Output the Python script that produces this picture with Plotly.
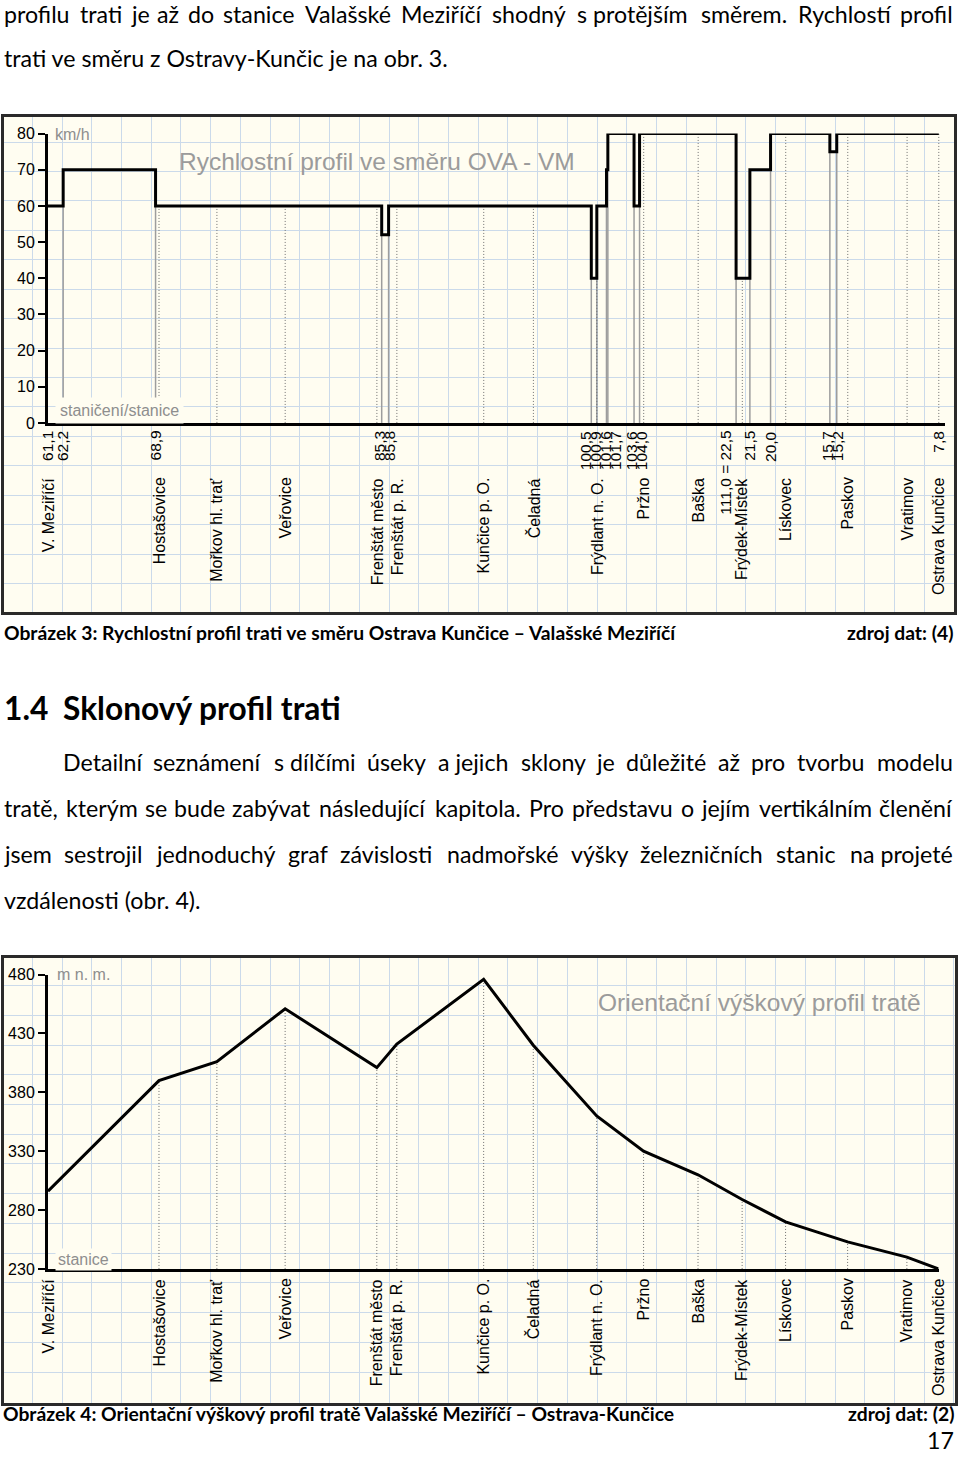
import unicodedata
import plotly.graph_objects as go

W, H = 960, 1463

# ------------------------------------------------------------------ data
# Obr. 3 - speed profile (chainage of speed changes, speed from that point on)
CHAIN_A_START = 61.1      # V. Meziříčí side chainage
CHAIN_A_END = 111.0       # 111,0 = 22,5
CHAIN_B_START = 22.5      # Ostrava side chainage (decreasing)

speed_chainage = [61.1, 62.2, 68.9, 85.3, 85.8, 100.5, 100.9, 101.6, 101.7, 103.6, 104.0,
                  22.5, 21.5, 20.0, 15.7, 15.2, 7.8]
speed_section = ["A", "A", "A", "A", "A", "A", "A", "A", "A", "A", "A",
                 "B", "B", "B", "B", "B", "B"]
speed_kmh = [60, 70, 60, 52, 60, 40, 60, 70, 80, 60, 80, 40, 70, 80, 75, 80, 80]
chainage_labels = ["61,1", "62,2", "68,9", "85,3", "85,8", "100,5", "100,9", "101,6", "101,7",
                   "103,6", "104,0", "111,0 = 22,5", "21,5", "20,0", "15,7", "15,2", "7,8"]

# stations: distance from V. Meziříčí [km] and elevation [m n. m.] (Obr. 4)
station_names = ["V. Meziříčí", "Hostašovice", "Mořkov hl. trať", "Veřovice", "Frenštát město",
                 "Frenštát p. R.", "Kunčice p. O.", "Čeladná", "Frýdlant n. O.", "Pržno", "Baška",
                 "Frýdek-Místek", "Lískovec", "Paskov", "Vratimov", "Ostrava Kunčice"]
station_km = [0.0, 8.05, 12.25, 17.2, 23.85, 25.3, 31.6, 35.2, 39.8, 43.2, 47.15,
              50.35, 53.5, 58.0, 62.3, 64.6]
station_elev = [296, 390, 406, 451, 401, 421, 476, 420, 360, 330, 310, 289, 270, 253, 240, 230]

speed_ticks = [0, 10, 20, 30, 40, 50, 60, 70, 80]
elev_ticks = [230, 280, 330, 380, 430, 480]

# page text
text_top = ["profilu trati je až do stanice Valašské Meziříčí shodný s\u00a0protějším směrem. Rychlostí profil",
            "trati ve směru z Ostravy-Kunčic je na obr. 3."]
caption3 = "Obrázek 3: Rychlostní profil trati ve směru Ostrava Kunčice – Valašské Meziříčí"
source3 = "zdroj dat: (4)"
heading_num = "1.4"
heading_text = "Sklonový profil trati"
para = ["Detailní seznámení s\u00a0dílčími úseky a\u00a0jejich sklony je důležité až pro tvorbu modelu",
        "tratě, kterým se bude zabývat následující kapitola. Pro představu o jejím vertikálním členění",
        "jsem sestrojil jednoduchý graf závislosti nadmořské výšky železničních stanic na\u00a0projeté",
        "vzdálenosti (obr. 4)."]
caption4 = "Obrázek 4: Orientační výškový profil tratě Valašské Meziříčí – Ostrava-Kunčice"
source4 = "zdroj dat: (2)"
page_no = "17"

# ------------------------------------------------------------------ styles
CF = "Liberation Sans, Arial, sans-serif"
TF = "Lato, Open Sans, sans-serif"
CREAM = "#fffdf1"
GRID = "#cbdaea"
FRAME = "#2a2a2a"
GREY_TXT = "#8e8e8e"
TITLE_TXT = "#9b9b9b"

# vertical calibration of the photographed page
Y_OFF, Y_SCALE = 6.1, 0.9907


def PX(px):
    return px / W


def PY(py):
    return 1 - ((py - Y_OFF) / Y_SCALE) / H


def PYRAW(py):
    return 1 - py / H


def dist(ch, sec):
    if sec == "A":
        return ch - CHAIN_A_START
    return (CHAIN_A_END - CHAIN_A_START) + (CHAIN_B_START - ch)


speed_dist = [dist(c, s) for c, s in zip(speed_chainage, speed_section)]


def speed_at(d):
    v = speed_kmh[0]
    for x, s in zip(speed_dist, speed_kmh):
        if x <= d + 1e-9:
            v = s
    return v


def spread(positions, gap):
    clusters = []
    for p in positions:
        clusters.append([p, 1])
        while len(clusters) > 1:
            a, b = clusters[-2], clusters[-1]
            ca, cb = a[0] / a[1], b[0] / b[1]
            if (cb - (b[1] - 1) * gap / 2) - (ca + (a[1] - 1) * gap / 2) < gap:
                clusters[-2:] = [[a[0] + b[0], a[1] + b[1]]]
            else:
                break
    out = []
    for s, n in clusters:
        c = s / n
        for k in range(n):
            out.append(c + (k - (n - 1) / 2) * gap)
    return out


# ------------------------------------------------------------------ traces
fig = go.Figure()

# grey solid lines at speed changes
gx, gy = [], []
for i in range(1, len(speed_dist) - 1):
    gx += [speed_dist[i], speed_dist[i], None]
    gy += [0, min(speed_kmh[i - 1], speed_kmh[i]), None]
fig.add_trace(go.Scatter(x=gx, y=gy, mode="lines", xaxis="x2", yaxis="y2",
                         line=dict(color="#9d9d9d", width=1.5), hoverinfo="skip"))

# dotted station lines (speed chart)
dx, dy = [], []
for d in station_km[1:]:
    dx += [d, d, None]
    dy += [0, speed_at(d), None]
fig.add_trace(go.Scatter(x=dx, y=dy, mode="lines", xaxis="x2", yaxis="y2",
                         line=dict(color="#707070", width=1, dash="1px,2px"), hoverinfo="skip"))

# speed profile
fig.add_trace(go.Scatter(x=speed_dist, y=speed_kmh, mode="lines", xaxis="x2", yaxis="y2",
                         line=dict(color="black", width=3, shape="hv")))

# dotted station lines (elevation chart)
ex, ey = [], []
for d, e in zip(station_km[1:], station_elev[1:]):
    ex += [d, d, None]
    ey += [elev_ticks[0], e, None]
fig.add_trace(go.Scatter(x=ex, y=ey, mode="lines", xaxis="x4", yaxis="y4",
                         line=dict(color="#707070", width=1, dash="1px,2px"), hoverinfo="skip"))

# elevation profile
fig.add_trace(go.Scatter(x=station_km, y=station_elev, mode="lines", xaxis="x4", yaxis="y4",
                         line=dict(color="black", width=3)))

# ------------------------------------------------------------------ annotations
A = []


def add(text, x, y, xref="paper", yref="paper", size=16, color="black", family=CF,
        xanchor="left", yanchor="middle", angle=0, bg=None, pad=1):
    d = dict(text=text, x=x, y=y, xref=xref, yref=yref, showarrow=False,
             xanchor=xanchor, yanchor=yanchor, textangle=angle, borderpad=pad,
             font=dict(size=size, color=color, family=family))
    if bg:
        d["bgcolor"] = bg
    A.append(d)


# speed chart texts
add("km/h", PX(53), PY(133), color=GREY_TXT)
add("staničení/stanice", PX(55), PY(410), color=GREY_TXT, bg=CREAM, pad=4)
add("Rychlostní profil ve směru OVA - VM", PX(177), PY(160), size=24.5, color=TITLE_TXT)

LABEL_GAP = 0.72          # km between neighbouring rotated chainage labels
chain_x = spread(speed_dist, LABEL_GAP)
for i, lab in enumerate(chainage_labels):
    x = chain_x[i]
    if len(lab) > 6:      # long label reaches the station-name band: keep it left of the name
        for sx in station_km:
            if abs(sx - x) < 1.2:
                x = sx - 1.2
    add(lab, x, PY(428), xref="x2", xanchor="center", yanchor="top", angle=-90, size=15.5)
for name, x in zip(station_names, spread(station_km, 1.2)):
    add(name, x, PY(475), xref="x2", xanchor="center", yanchor="top", angle=-90)

# elevation chart texts
add("m n. m.", PX(55), PY(975), color=GREY_TXT)
add("stanice", PX(55), PY(1261), color=GREY_TXT, bg=CREAM, pad=2)
add("Orientační výškový profil tratě", PX(596), PY(1003), size=24.5, color=TITLE_TXT)
for name, x in zip(station_names, spread(station_km, 1.2)):
    add(name, x, PY(1278), xref="x4", xanchor="center", yanchor="top", angle=-90)

# page text ---------------------------------------------------------
CAL = {" ": .226, "\u00a0": .226, "a": .479, "b": .525, "c": .423, "d": .525, "e": .498,
       "f": .305, "g": .471, "h": .525, "i": .229, "j": .239, "k": .455, "l": .229, "m": .799,
       "n": .525, "o": .527, "p": .525, "q": .525, "r": .349, "s": .391, "t": .335, "u": .525,
       "v": .452, "w": .715, "x": .433, "y": .453, "z": .395, "A": .579, "B": .544, "C": .533,
       "D": .615, "E": .488, "F": .459, "G": .631, "H": .623, "I": .252, "J": .319, "K": .520,
       "L": .420, "M": .855, "N": .646, "O": .662, "P": .517, "Q": .673, "R": .543, "S": .459,
       "T": .487, "U": .642, "V": .567, "W": .890, "X": .519, "Y": .487, "Z": .468, ".": .252,
       ",": .250, ":": .268, "(": .303, ")": .303, "-": .306, "–": .498}


def cal_width(s):
    w = 0
    for ch in s:
        if ch.isdigit():
            w += .507
            continue
        base = unicodedata.normalize("NFD", ch)[0]
        w += CAL.get(ch, CAL.get(base, .5))
    return w


BODY = 23.2
CAP = 19.3
HEAD = 31.7
WORD_SCALE = BODY * 1.11   # estimated rendered word width per Calibri em
DY = -3


def justified(text, y, x0, x1):
    words = text.split(" ")
    ws = [cal_width(w) * WORD_SCALE for w in words]
    gap = (x1 - x0 - sum(ws)) / (len(words) - 1)
    x = x0
    for i, (w, wd) in enumerate(zip(words, ws)):
        if i == 0:
            add(w, PX(x0), PY(y + DY), size=BODY, family=TF, xanchor="left")
        elif i == len(words) - 1:
            add(w, PX(x1), PY(y + DY), size=BODY, family=TF, xanchor="right")
        else:
            add(w, PX(x + wd / 2), PY(y + DY), size=BODY, family=TF, xanchor="center")
        x += wd + gap


justified(text_top[0], 15, 2, 955)
add(text_top[1], PX(2), PY(59.5 + DY), size=BODY, family=TF)

add("<b>" + caption3 + "</b>", PX(2), PY(635 + DY), size=CAP, family=TF)
add("<b>" + source3 + "</b>", PX(955), PY(635 + DY), size=CAP, family=TF, xanchor="right")

add("<b>" + heading_num + "</b>", PX(2), PY(711 + DY), size=HEAD, family=TF)
add("<b>" + heading_text + "</b>", PX(61), PY(711 + DY), size=HEAD, family=TF)

justified(para[0], 765, 61, 955)
justified(para[1], 811, 2, 955)
justified(para[2], 857, 2, 955)
add(para[3], PX(2), PY(903 + DY), size=BODY, family=TF)

# bottom of the page: keep caption and page number apart and inside the page
add("<b>" + caption4 + "</b>", PX(2), PYRAW(1422), size=CAP, family=TF, pad=0)
add("<b>" + source4 + "</b>", PX(955), PYRAW(1422), size=CAP, family=TF, xanchor="right", pad=0)
add(page_no, PX(955), PYRAW(1449), size=BODY, family=TF, xanchor="right", pad=0)

# ------------------------------------------------------------------ layout
bg_axis = dict(showgrid=True, gridcolor=GRID, gridwidth=1, showticklabels=False, ticks="",
               zeroline=False, showline=True, mirror=True, linecolor=FRAME, linewidth=3,
               fixedrange=True)
data_x = dict(showline=True, linecolor="black", linewidth=3, showgrid=False, zeroline=False,
              showticklabels=False, ticks="", fixedrange=True)
data_y = dict(showline=True, linecolor="black", linewidth=3, showgrid=False, zeroline=False,
              ticks="outside", ticklen=7, tickwidth=1.5, tickcolor="black",
              tickfont=dict(size=16, color="black", family=CF), fixedrange=True)

fig.update_layout(
    width=W, height=H, autosize=False,
    margin=dict(l=0, r=0, t=0, b=0, pad=0),
    paper_bgcolor="white", plot_bgcolor="rgba(0,0,0,0)",
    showlegend=False,
    xaxis=dict(bg_axis, domain=[PX(4), PX(954)], range=[0, 950], anchor="y",
               tick0=28.3, dtick=29.73),
    yaxis=dict(bg_axis, domain=[PY(612), PY(115)], range=[497, 0], anchor="x",
               tick0=350, dtick=29.5),
    xaxis2=dict(data_x, domain=[PX(48), PX(945)], range=[0, 65.05], anchor="y2"),
    yaxis2=dict(data_y, domain=[PY(422), PY(132)], range=[0, 80], anchor="x2",
                tickvals=speed_ticks),
    xaxis3=dict(bg_axis, domain=[PX(4), PX(955)], range=[0, 951], anchor="y3",
                tick0=28.3, dtick=29.73),
    yaxis3=dict(bg_axis, domain=[PY(1404), PY(958)], range=[446, 0], anchor="x3",
                tick0=326, dtick=29.8),
    xaxis4=dict(data_x, domain=[PX(48), PX(938.6)], range=[0, 64.6], anchor="y4"),
    yaxis4=dict(data_y, domain=[PY(1270), PY(975)], range=[230, 480], anchor="x4",
                tickvals=elev_ticks),
    shapes=[
        dict(type="rect", xref="paper", yref="paper", x0=PX(4), x1=PX(954), y0=PY(612),
             y1=PY(115), fillcolor=CREAM, line=dict(width=0), layer="below"),
        dict(type="rect", xref="paper", yref="paper", x0=PX(4), x1=PX(955), y0=PY(1404),
             y1=PY(958), fillcolor=CREAM, line=dict(width=0), layer="below"),
    ],
    annotations=A,
)

# invisible anchor traces so the background subplots exist
fig.add_trace(go.Scatter(x=[None], y=[None], xaxis="x", yaxis="y", hoverinfo="skip"))
fig.add_trace(go.Scatter(x=[None], y=[None], xaxis="x3", yaxis="y3", hoverinfo="skip"))

PAGE_FIX = (
    "var gd=document.getElementById('{plot_id}');"
    "var css='margin:0;padding:0;overflow:hidden;width:960px;height:1463px;';"
    "document.documentElement.style.cssText=css;"
    "document.body.style.cssText=css;"
    "gd.style.position='fixed';gd.style.left='0px';gd.style.top='0px';"
)

fig.write_html("out.html", config={"displayModeBar": False}, post_script=PAGE_FIX)
